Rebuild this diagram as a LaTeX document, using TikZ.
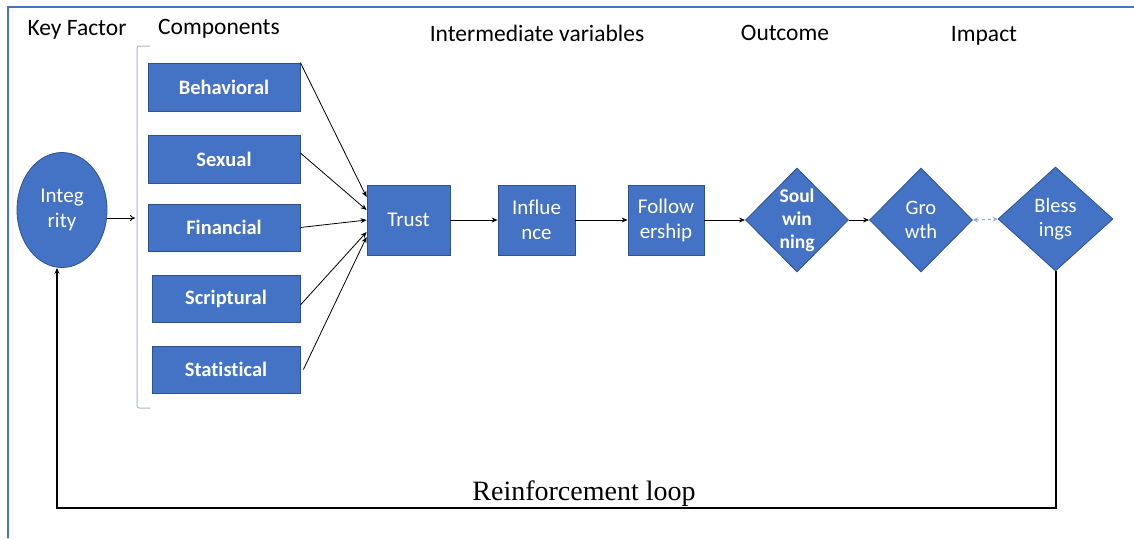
\documentclass[tikz,border=0pt]{standalone}
\usepackage{fontspec}
\setmainfont[Ligatures=NoCommon]{Carlito}
\newfontfamily\serifface{Liberation Serif}
\usetikzlibrary{shapes.geometric,arrows.meta}
\definecolor{obl}{HTML}{4472C4}
\definecolor{obd}{HTML}{2F528F}
\definecolor{brk}{HTML}{A9B8CE}
\definecolor{lbl}{HTML}{8FAADC}
\begin{document}
\begin{tikzpicture}[x=1pt,y=-1pt,
  blk/.style={draw=obd,line width=0.8pt,fill=obl,text=white,inner sep=0pt,align=center,
    font=\fontsize{21}{25}\selectfont},
  blkb/.style={blk,font=\fontsize{20.5}{25}\selectfont\bfseries},
  dia/.style={blk,diamond,aspect=1},
  hdr/.style={inner sep=0pt,font=\fontsize{23.5}{28}\selectfont},
  conn/.style={line width=0.8pt,-{Stealth[length=6pt,width=5pt]}}]
\useasboundingbox (0,0) rectangle (1134,538);
\fill[white] (0,0) rectangle (1134,538);
% frame lines
\draw[obl,line width=1.2pt] (8,538) -- (8,7) -- (1134,7);
% headers
\node[hdr] (h1) at (77,30) {Key Factor};
\node[hdr] (h2) at (219,29) {Components};
\node[hdr] (h3) at (537,33) {Intermediate variables};
\node[hdr] (h4) at (785,33) {Outcome};
\node[hdr] (h5) at (984,36) {Impact};
% integrity
\node[blk,ellipse,minimum width=90pt,minimum height=115pt] (integ) at (62,210) {Integ\\rity};
% bracket
\draw[brk,line width=1pt,rounded corners=2pt] (150,46) -- (137,46) -- (137,408) -- (150,408);
\coordinate (brkin) at (135,218);
\draw[line width=0.8pt,-{To[length=5pt,width=6pt]}] (integ.east |- brkin) -- (brkin);
% components
\node[blkb,minimum width=152pt,minimum height=48pt] (beh) at (224,87) {Behavioral};
\node[blkb,minimum width=152pt,minimum height=48pt] (sex) at (224,159) {Sexual};
\node[blkb,minimum width=152pt,minimum height=47pt] (fin) at (224,227.5) {Financial};
\node[blkb,minimum width=148pt,minimum height=47pt] (scr) at (226,298.5) {Scriptural};
\node[blkb,minimum width=148pt,minimum height=47pt] (sta) at (226,369.5) {Statistical};
% chain
\node[blk,minimum width=83pt,minimum height=70pt] (trust) at (408.5,220) {Trust};
\node[blk,minimum width=77pt,minimum height=70pt] (infl) at (536.5,220) {Influe\\nce};
\node[blk,minimum width=76pt,minimum height=70pt] (foll) at (666,220) {Follow\\ership};
\node[dia,font=\fontsize{19.5}{23}\selectfont\bfseries,minimum width=103pt,minimum height=104pt] (soul) at (797,220) {Soul\\win\\ning};
\node[dia,font=\fontsize{20.5}{24}\selectfont,minimum width=103pt,minimum height=104pt] (grow) at (921,220) {Gro\\wth};
\node[dia,font=\fontsize{20.5}{24}\selectfont,minimum width=115pt,minimum height=104pt] (bless) at (1055.5,219) {Bless\\ings};
% arrows to trust
\draw[conn] (beh.north east) -- ([yshift=23pt]trust.west);
\draw[conn] ([yshift=6pt]sex.east) -- ([yshift=10pt]trust.west);
\draw[conn] (fin.east) -- (trust.west);
\draw[conn] ([yshift=-6.5pt]scr.east) -- ([yshift=-12pt]trust.west);
\draw[conn] ([xshift=3pt]sta.east) -- ([yshift=-17pt]trust.west);
% chain arrows
\draw[conn] (trust) -- (infl);
\draw[conn] (infl) -- (foll);
\draw[conn] (foll) -- (soul);
\draw[conn] (soul) -- (grow);
\draw[lbl,line width=1pt,dashed,{Stealth[length=5pt,width=5pt]}-{Stealth[length=5pt,width=5pt]}] (grow.east) -- (bless.west);
% loop
\coordinate (rb) at (1056,508);
\coordinate (lb) at (57,508);
\draw[line width=1.2pt,-{Stealth[length=6pt,width=5pt]}] ([xshift=0.5pt]bless.south) -- (rb) -- (lb) -- ([xshift=-5pt]integ.south);
\node[inner sep=0pt,anchor=base,font=\serifface\fontsize{28}{32}\selectfont] (loop) at (584,500) {Reinforcement loop};
\end{tikzpicture}
\end{document}
